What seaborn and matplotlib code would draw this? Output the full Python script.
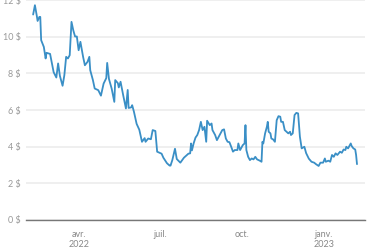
# Price history line chart (Feb 2022 - Feb 2023)
import matplotlib
matplotlib.use('Agg')
import matplotlib.pyplot as plt
import pandas as pd
import seaborn as sns

# data
dates = ['2022-02-09', '2022-02-11', '2022-02-13', '2022-02-14', '2022-02-16', '2022-02-17',
         '2022-02-18', '2022-02-21', '2022-02-23', '2022-02-24', '2022-02-28', '2022-03-01',
         '2022-03-04', '2022-03-07', '2022-03-09', '2022-03-11', '2022-03-14', '2022-03-16',
         '2022-03-18', '2022-03-20', '2022-03-22', '2022-03-24', '2022-03-26', '2022-03-28',
         '2022-03-30', '2022-04-01', '2022-04-03', '2022-04-06', '2022-04-08', '2022-04-11',
         '2022-04-13', '2022-04-14', '2022-04-17', '2022-04-19', '2022-04-23', '2022-04-26',
         '2022-04-29', '2022-05-02', '2022-05-03', '2022-05-05', '2022-05-08', '2022-05-11',
         '2022-05-12', '2022-05-15', '2022-05-16', '2022-05-18', '2022-05-21', '2022-05-24',
         '2022-05-26', '2022-05-27', '2022-05-30', '2022-05-31', '2022-06-02', '2022-06-05',
         '2022-06-08', '2022-06-11', '2022-06-14', '2022-06-15', '2022-06-18', '2022-06-21',
         '2022-06-23', '2022-06-26', '2022-06-28', '2022-07-03', '2022-07-05', '2022-07-09',
         '2022-07-12', '2022-07-13', '2022-07-15', '2022-07-18', '2022-07-20', '2022-07-24',
         '2022-07-28', '2022-08-02', '2022-08-04', '2022-08-05', '2022-08-06', '2022-08-08',
         '2022-08-10', '2022-08-12', '2022-08-14', '2022-08-16', '2022-08-18', '2022-08-20',
         '2022-08-22', '2022-08-23', '2022-08-26', '2022-08-28', '2022-08-29', '2022-09-01',
         '2022-09-03', '2022-09-06', '2022-09-09', '2022-09-11', '2022-09-13', '2022-09-15',
         '2022-09-17', '2022-09-19', '2022-09-21', '2022-09-23', '2022-09-26', '2022-09-27',
         '2022-09-29', '2022-10-02', '2022-10-04', '2022-10-05', '2022-10-06', '2022-10-08',
         '2022-10-10', '2022-10-12', '2022-10-14', '2022-10-16', '2022-10-18', '2022-10-21',
         '2022-10-23', '2022-10-24', '2022-10-25', '2022-10-27', '2022-10-29', '2022-10-30',
         '2022-10-31', '2022-11-02', '2022-11-03', '2022-11-05', '2022-11-07', '2022-11-09',
         '2022-11-11', '2022-11-13', '2022-11-14', '2022-11-16', '2022-11-18', '2022-11-20',
         '2022-11-22', '2022-11-24', '2022-11-25', '2022-11-27', '2022-11-29', '2022-12-01',
         '2022-12-03', '2022-12-05', '2022-12-07', '2022-12-10', '2022-12-12', '2022-12-15',
         '2022-12-18', '2022-12-21', '2022-12-23', '2022-12-26', '2022-12-28', '2022-12-31',
         '2023-01-02', '2023-01-03', '2023-01-06', '2023-01-08', '2023-01-10', '2023-01-12',
         '2023-01-14', '2023-01-16', '2023-01-19', '2023-01-21', '2023-01-23', '2023-01-25',
         '2023-01-26', '2023-01-28', '2023-01-31', '2023-02-01', '2023-02-03', '2023-02-05',
         '2023-02-06', '2023-02-07']
prices = [11.22, 11.73, 11.18, 10.87, 11.09, 11.09,
          9.82, 9.45, 8.82, 9.13, 9.07, 8.82,
          8.07, 7.78, 8.55, 7.87, 7.33, 7.91,
          8.91, 8.82, 9.00, 10.82, 10.36, 10.02,
          10.02, 9.27, 9.73, 8.91, 8.45, 8.64,
          8.91, 8.18, 7.64, 7.18, 7.09, 6.79,
          7.45, 7.75, 8.58, 7.70, 7.18, 6.45,
          7.64, 7.47, 7.24, 7.55, 6.80, 6.09,
          7.10, 6.12, 6.15, 6.27, 5.91, 5.25,
          4.93, 4.27, 4.47, 4.27, 4.45, 4.41,
          4.91, 4.86, 3.73, 3.62, 3.40, 3.10,
          2.97, 2.97, 3.27, 3.89, 3.33, 3.13,
          3.40, 3.62, 3.64, 4.18, 3.80, 4.20,
          4.50, 4.64, 4.91, 5.36, 4.91, 5.09,
          4.27, 5.42, 5.18, 5.27, 4.91, 4.64,
          4.36, 4.64, 4.91, 4.95, 4.45, 4.27,
          4.25, 4.00, 3.73, 3.82, 3.82, 4.18,
          3.82, 4.09, 4.18, 5.18, 3.82, 3.45,
          3.27, 3.36, 3.31, 3.45, 3.31, 3.24,
          3.18, 4.27, 4.18, 4.73, 5.09, 5.36,
          4.82, 4.73, 4.45, 4.40, 4.27, 5.45,
          5.67, 5.64, 5.36, 5.36, 4.91, 4.82,
          4.73, 4.82, 4.64, 4.73, 5.73, 5.85,
          5.82, 4.55, 3.91, 4.00, 3.65, 3.35,
          3.18, 3.13, 3.05, 2.95, 3.13, 3.13,
          3.36, 3.18, 3.24, 3.18, 3.55, 3.45,
          3.64, 3.55, 3.73, 3.67, 3.85, 3.82,
          4.00, 3.91, 4.18, 4.04, 3.91, 3.85,
          3.55, 3.05]

y_ticks = [0, 2, 4, 6, 8, 10, 12]
y_labels = ['0 $', '2 $', '4 $', '6 $', '8 $', '10 $', '12 $']
x_ticks = ['2022-04-01', '2022-07-01', '2022-10-01', '2023-01-01']
x_labels = ['avr.\n2022', 'juil.', 'oct.', 'janv.\n2023']

df = pd.DataFrame({'date': pd.to_datetime(dates), 'price': prices})

sns.set_style('white')
plt.rcParams['font.family'] = ['Lato', 'DejaVu Sans']

fig = plt.figure(figsize=(3.74, 2.49), dpi=100)
ax = fig.add_axes([0.0695, 0.1165, 0.9065, 0.8825])

sns.lineplot(data=df, x='date', y='price', color='#3a8fc6', linewidth=1.3, ax=ax)

ax.set_xlim(pd.Timestamp('2022-02-01'), pd.Timestamp('2023-02-16'))
ax.set_ylim(0, 12)
ax.set_yticks(y_ticks)
ax.set_yticklabels(y_labels)
ax.set_xticks(pd.to_datetime(x_ticks))
ax.set_xticklabels(x_labels)
ax.grid(axis='y', color='#ebebeb', linewidth=1.1)
ax.set_axisbelow(True)
ax.set_xlabel('')
ax.set_ylabel('')

for side in ['top', 'right', 'left']:
    ax.spines[side].set_visible(False)
ax.spines['bottom'].set_color('#777777')
ax.spines['bottom'].set_linewidth(1.0)

ax.tick_params(axis='y', length=0, pad=4, labelsize=6.5, labelcolor='#999999')
ax.tick_params(axis='x', length=3.5, width=0.9, color='#777777', pad=4,
               labelsize=6.5, labelcolor='#888888')
for lab in ax.get_xticklabels():
    lab.set_linespacing(1.15)

fig.savefig('out.png', dpi=100)
